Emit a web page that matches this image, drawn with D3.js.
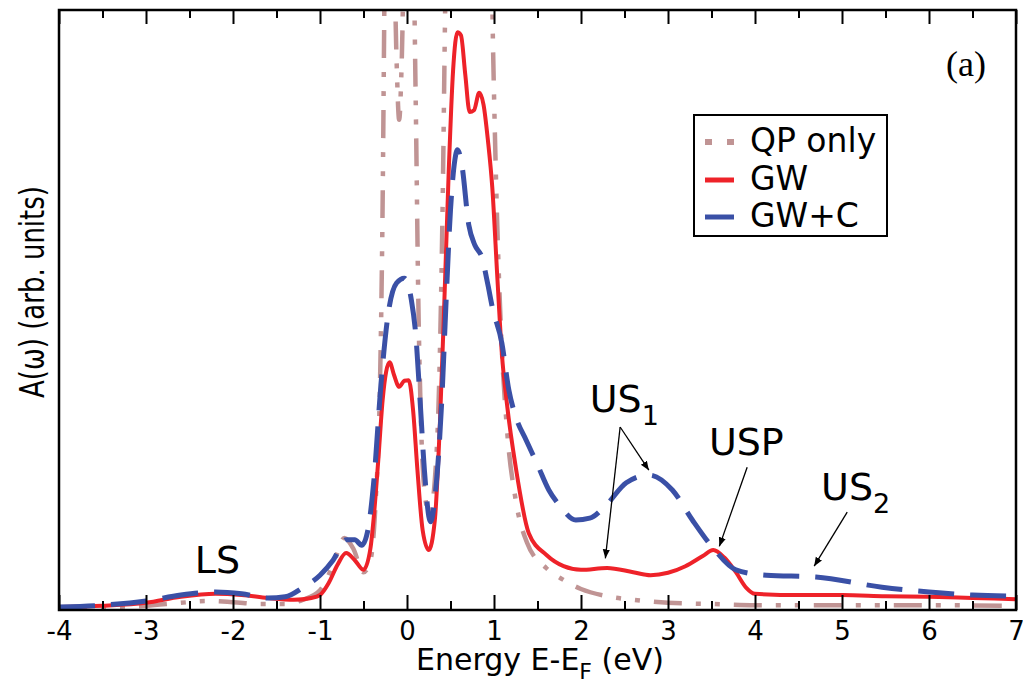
<!DOCTYPE html>
<html>
<head>
<meta charset="utf-8">
<script src="https://cdn.jsdelivr.net/npm/d3@7"></script>
<style>
  body { margin: 0; background: #fff; }
  text { font-family: "DejaVu Sans", sans-serif; }
</style>
</head>
<body>
<div id="chart"></div>
<script>
// energy (eV) and spectral weight (arb. units, 0..100 = axis to top)
var gwX = [-4.0,-3.5,-3.0,-2.6,-2.2,-1.9,-1.6,-1.3,-1.1,-1.0,-0.9,-0.8,-0.7,-0.6,-0.5,-0.42,-0.38,-0.33,-0.28,-0.24,-0.2,-0.15,-0.09,-0.03,0.02,0.07,0.12,0.18,0.25,0.32,0.38,0.43,0.48,0.53,0.58,0.62,0.67,0.72,0.77,0.83,0.88,0.93,0.98,1.04,1.09,1.15,1.25,1.4,1.6,1.8,2.0,2.3,2.6,2.8,3.0,3.2,3.4,3.52,3.65,3.78,3.9,4.0,4.5,5.0,5.5,6.0,6.5,7.0]
var gwY = [0.5,0.7,1.2,2.2,2.7,2.5,2.0,1.7,2.0,2.5,4.5,7.5,9.5,8.3,6.7,10.3,15.8,25,35,39.7,41.3,39.2,37.2,38.2,38.3,33.3,23.3,13.3,10,15,31.7,51.7,73.3,90,96.3,95.8,89.2,83,83.3,86.2,84.2,78.3,70.5,55,42.8,34.2,23.8,12.8,9.2,7.3,6.7,7,6.3,5.8,6.2,7.3,9,10,8.7,6.3,3.7,2.7,2.5,2.5,2.3,2.2,2.0,1.8]

var gwcX = [-4.0,-3.5,-3.0,-2.6,-2.2,-1.9,-1.6,-1.4,-1.2,-1.0,-0.85,-0.7,-0.6,-0.52,-0.45,-0.38,-0.3,-0.22,-0.12,-0.03,0.05,0.1,0.15,0.2,0.27,0.33,0.4,0.45,0.5,0.55,0.58,0.63,0.71,0.78,0.86,0.93,0.98,1.09,1.17,1.25,1.37,1.5,1.63,1.75,1.94,2.1,2.29,2.52,2.78,3.05,3.28,3.52,3.78,4.13,4.7,5.46,6.0,6.5,7.0]
var gwcY = [0.5,0.8,1.5,2.5,3,2.7,2.0,2.2,3.7,5.8,8.3,11.7,11.7,10.8,13.3,21.7,37.5,49,54.5,55.3,51.7,46,35,23.3,14.7,20,35,51.7,66.7,75,76.7,74.2,64.2,60.8,58.8,54.2,50.5,44.5,36.7,32.2,28.3,24.2,20,17.5,15,15.3,17.5,21.2,22.5,20,15,10.3,6.7,5.8,5.5,3.8,3.0,2.5,2.3]

var qpX = [-4.0,-3.5,-3.0,-2.6,-2.3,-2.0,-1.7,-1.4,-1.2,-1.0,-0.85,-0.72,-0.62,-0.5,-0.42,-0.36,-0.31,-0.28,-0.26,-0.24,-0.16,-0.12,-0.09,-0.06,-0.02,0.06,0.1,0.13,0.16,0.2,0.26,0.32,0.37,0.41,0.44,0.47,0.95,0.99,1.03,1.08,1.15,1.25,1.38,1.6,1.8,2.0,2.3,2.6,3.0,3.5,4.0,5.0,6.0,7.0]
var qpY = [0.3,0.5,0.7,1.2,1.5,1.3,1.0,1.0,1.7,3.3,7.5,12,10.3,6.3,8.3,18.3,38,68,101.5,135,118,91.7,81.7,91.7,118,118,85,51.7,31.7,20,15.8,21.7,38,68,101.5,126,126,93,68,46.7,30,18.3,11.2,7,5,3.5,2.3,1.7,1.2,1.0,0.8,0.8,0.8,0.7]

var xTicks = [-4,-3,-2,-1,0,1,2,3,4,5,6,7]
var xMinor = [-3.5,-2.5,-1.5,-0.5,0.5,1.5,2.5,3.5,4.5,5.5,6.5]

var legendNames = ["QP only", "GW", "GW+C"]
var colors = ["#c09494", "#ee2229", "#3a50a6"]
var dashes = ["28,14,5,14,5,14", null, "36,16"]

// annotations: label, sub, x, y (data units)
var labels = [["LS", "", -2.44, 6.2], ["US", "1", 2.10, 33], ["USP", "", 3.47, 25.8], ["US", "2", 4.76, 18.3]]
// arrows: from x, y -> to x, y (data units)
var arrows = [[2.45, 30.5, 2.28, 8.6], [2.45, 30.5, 2.78, 23.3], [3.91, 23.8, 3.59, 10.6], [5.06, 16.3, 4.68, 7.3]]

var W = 1023, H = 687
var margin = {top: 10, right: 7, bottom: 77, left: 59},
    width = W - margin.left - margin.right,
    height = H - margin.top - margin.bottom;

var svg = d3.select("#chart").append("svg")
    .attr("width", W)
    .attr("height", H)

var g = svg.append("g")
    .attr("transform", "translate(" + margin.left + "," + margin.top + ")");

var x = d3.scaleLinear().domain([-4, 7]).range([0, width]);
var y = d3.scaleLinear().domain([0, 100]).range([height, 0]);

g.append("clipPath").attr("id", "clip")
    .append("rect").attr("width", width).attr("height", height);

var line = d3.line()
    .x(function(d) { return x(d[0]); })
    .y(function(d) { return y(d[1]); })
    .curve(d3.curveMonotoneX);

var series = [d3.zip(qpX, qpY), d3.zip(gwX, gwY), d3.zip(gwcX, gwcY)]
var widths = [4.5, 4, 5]

g.append("g").attr("clip-path", "url(#clip)")
    .selectAll("path")
    .data(series)
    .enter().append("path")
    .attr("d", line)
    .attr("fill", "none")
    .attr("stroke", function(d, i) { return colors[i]; })
    .attr("stroke-width", function(d, i) { return widths[i]; })
    .attr("stroke-dasharray", function(d, i) { return dashes[i]; });

/* axes: ticks inward, top and bottom */
g.append("g")
    .attr("transform", "translate(0," + height + ")")
    .call(d3.axisBottom(x).tickValues(xTicks).tickSize(-15).tickPadding(12)
        .tickFormat(function(d) { return String(d); }))
    .call(function(a) {
        a.select(".domain").remove();
        a.selectAll("line").attr("stroke-width", 2);
        a.selectAll("text").style("font-family", "DejaVu Sans").style("font-size", "26px").attr("fill", "#000");
    });
g.append("g")
    .attr("transform", "translate(0," + height + ")")
    .call(d3.axisBottom(x).tickValues(xMinor).tickSize(-9).tickFormat(""))
    .call(function(a) { a.select(".domain").remove(); a.selectAll("line").attr("stroke-width", 2); });
g.append("g")
    .call(d3.axisTop(x).tickValues(xTicks).tickSize(-14).tickFormat(""))
    .call(function(a) { a.select(".domain").remove(); a.selectAll("line").attr("stroke-width", 2); });
g.append("g")
    .call(d3.axisTop(x).tickValues(xMinor).tickSize(-8).tickFormat(""))
    .call(function(a) { a.select(".domain").remove(); a.selectAll("line").attr("stroke-width", 2); });

g.append("rect")
    .attr("width", width).attr("height", height)
    .attr("fill", "none").attr("stroke", "#000").attr("stroke-width", 2.5);

/* axis titles */
var xt = svg.append("text")
    .attr("x", 540).attr("y", 670)
    .attr("text-anchor", "middle")
    .style("font-size", "30px")
    .text("Energy E-E");
xt.append("tspan").attr("dy", 9).style("font-size", "22px").text("F");
xt.append("tspan").attr("dy", -9).text(" (eV)");

svg.append("text")
    .attr("transform", "translate(44,292) scale(1.3,1) rotate(-90)")
    .attr("text-anchor", "middle")
    .style("font-size", "26px")
    .text("A(\u03c9) (arb. units)");

svg.append("text")
    .attr("x", 966).attr("y", 76)
    .attr("text-anchor", "middle")
    .style("font-family", "Liberation Serif, serif")
    .style("font-size", "36px")
    .text("(a)");

/* legend */
var leg = svg.append("g")
leg.append("rect")
    .attr("x", 694).attr("y", 115).attr("width", 193).attr("height", 121)
    .attr("fill", "#fff").attr("stroke", "#000").attr("stroke-width", 2);
var legY = [142, 180, 217]
legendNames.forEach(function(name, i) {
    leg.append("line")
        .attr("x1", 705).attr("x2", 734)
        .attr("y1", legY[i]).attr("y2", legY[i])
        .attr("stroke", colors[i])
        .attr("stroke-width", i == 0 ? 6 : 5)
        .attr("stroke-dasharray", i == 0 ? "7,15" : null);
    leg.append("text")
        .attr("x", 750).attr("y", legY[i] + 10)
        .style("font-size", "33px")
        .text(name);
});

/* annotations */
svg.append("defs").append("marker")
    .attr("id", "head")
    .attr("viewBox", "0 0 10 10")
    .attr("refX", 10).attr("refY", 5)
    .attr("markerWidth", 9).attr("markerHeight", 9)
    .attr("markerUnits", "userSpaceOnUse")
    .attr("orient", "auto")
    .append("path").attr("d", "M0,1 L10,5 L0,9 Z").attr("fill", "#000");

g.selectAll(".arrow")
    .data(arrows)
    .enter().append("line")
    .attr("class", "arrow")
    .attr("x1", function(d) { return x(d[0]); })
    .attr("y1", function(d) { return y(d[1]); })
    .attr("x2", function(d) { return x(d[2]); })
    .attr("y2", function(d) { return y(d[3]); })
    .attr("stroke", "#000").attr("stroke-width", 1.3)
    .attr("marker-end", "url(#head)");

var ann = g.selectAll(".ann")
    .data(labels)
    .enter().append("text")
    .attr("class", "ann")
    .attr("x", function(d) { return x(d[2]); })
    .attr("y", function(d) { return y(d[3]); })
    .style("font-size", "38px")
    .text(function(d) { return d[0]; });
ann.append("tspan")
    .attr("dy", 13)
    .style("font-size", "27px")
    .text(function(d) { return d[1]; });
</script>
</body>
</html>
